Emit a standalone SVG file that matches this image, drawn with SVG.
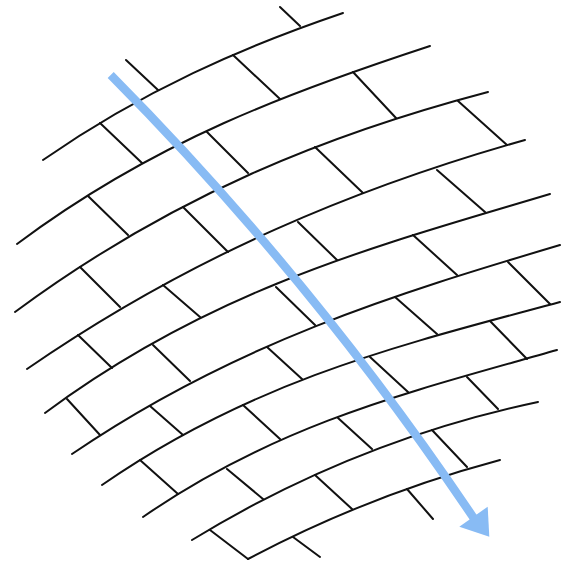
<svg xmlns="http://www.w3.org/2000/svg" width="561" height="564" viewBox="0 0 561 564">
<style>
.c{fill:none;stroke:#111;stroke-width:2;stroke-linecap:round;stroke-linejoin:round}
.a{fill:none;stroke:#88bbf4;stroke-width:8.5;stroke-linecap:butt}
.h{fill:#88bbf4}
</style>
<rect width="561" height="564" fill="#fff"/>
<g id="courses" class="c">
<path d="M43,160 C143,90.5 243,46.9 343,13"/>
<path d="M17,244 C154.7,140.9 292.3,91.1 430,46"/>
<path d="M15,312 C172.7,195.2 330.3,133.5 488,92"/>
<path d="M27,369 C193,254.6 359,186.9 525,140"/>
<path d="M45,413 C213.3,287.7 381.7,244.4 550,194"/>
<path d="M72,454 C234.7,343.1 397.3,293.5 560,245"/>
<path d="M102,485 C254.7,379 407.3,343.2 560,302"/>
<path d="M143,517 C281,421.4 419,389.5 557,350"/>
<path d="M192,540 C307.3,469.6 422.7,426.3 538,402"/>
<path d="M248,559 C332,514.5 416,482.4 500,460"/>
</g>
<g id="joints" class="c">
<path d="M126,60 L158,90 M280,7 L300,26
M100,123 L142,163 M233,55 L280,99
M88,196 L128,235 M207,132 L248,173 M353,72 L396,118
M80,267 L120,307 M183,207 L228,252 M315,147 L363,193 M458,101 L507,145
M78,335 L112,368 M163,285 L200,317 M298,222 L337,260 M437,170 L485,212
M67,399 L100,435 M153,345 L190,381 M276,287 L315,325 M413,235 L457,275
M150,406 L183,435 M267,347 L302,379 M395,297 L437,334 M508,262 L550,304
M140,460 L178,494 M243,405 L280,439 M370,357 L408,392 M490,321 L527,359
M227,469 L263,499 M338,418 L372,449 M467,377 L498,409
M210,530 L248,559 M315,475 L352,509 M432,430 L467,467
M293,537 L320,557 M407,489 L433,519"/>
</g>
<g id="arrow">
<path class="a" d="M110.7,75 Q312,278 473,517 L477,522"/>
<polygon class="h" points="489.3,536.7 459.3,526.7 487.7,506.7"/>
</g>
</svg>
